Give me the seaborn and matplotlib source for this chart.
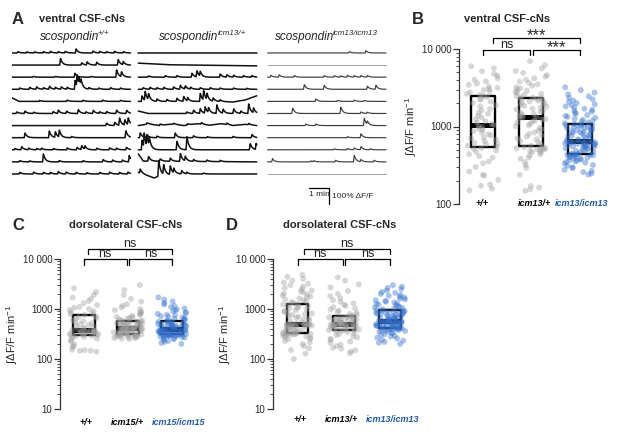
import numpy as np
import pandas as pd
import matplotlib
matplotlib.use("Agg")
import matplotlib.pyplot as plt
import matplotlib.transforms as mtransforms
from matplotlib.ticker import LogLocator, NullFormatter
import seaborn as sns

# ---------------- panel A: calcium traces (time in min, peak height in dF/F) ----------------
TRACE_HEADERS = [("scospondin", "+/+"), ("scospondin", "icm13/+"), ("scospondin", "icm13/icm13")]

TRACES_WT = [
    [(0.3, .08), (0.75, .07), (1.15, .07), (1.6, .08), (1.95, .1), (2.35, .08), (2.7, .1), (3.25, .25),
     (4.1, .12), (4.45, .1), (4.8, .08), (5.2, .1), (5.65, .08)],
    [(2.46, .42), (3.53, .15), (3.81, .2), (4.29, .18), (5.38, .35), (5.64, .2)],
    [(1.08, .05), (2.2, .05), (3.19, .25), (4.0, .05), (5.3, .45), (5.55, .3)],
    [(0.4, .08), (0.9, .12), (1.25, .15), (1.6, .1), (1.9, .18), (2.2, .12), (2.5, .15), (2.8, .12),
     (3.2, .55), (3.3, .7), (3.4, .45), (3.5, .35), (3.9, .1), (4.4, .08), (5.0, .1), (5.5, .08)],
    [(1.4, .06), (2.8, .08), (3.6, .07), (4.6, .08), (5.5, .07)],
    [(0.24, .1), (0.66, .15), (1.1, .08), (2.09, .12), (2.35, .2), (2.77, .15), (3.36, .25), (3.75, .1),
     (4.12, .2), (4.45, .1), (4.8, .12), (5.3, .2), (5.81, .2)],
    [(4.79, .15), (5.21, .2), (5.45, .45), (5.72, .35), (5.89, .42)],
    [(0.66, .3), (1.89, .42), (2.2, .35), (2.4, .42), (3.02, .08), (5.77, .45)],
    [(0.15, .08), (0.49, .2), (0.85, .1), (1.25, .08), (1.5, .1), (2.1, .08), (2.8, .12), (3.3, .15),
     (3.53, .25), (3.7, .2), (4.3, .1), (4.95, .12), (5.3, .1), (5.8, .15)],
    [(0.4, .08), (0.9, .06), (1.59, .5), (2.4, .08), (3.6, .07), (4.62, .15), (5.1, .12), (5.6, .12), (5.94, .4)],
    [(0.4, .1), (1.1, .12), (1.6, .1), (1.95, .1), (2.35, .15), (2.75, .12), (3.25, .1), (3.8, .08),
     (4.45, .1), (4.95, .12), (5.45, .1), (5.88, .12)],
]
TRACES_HET = [
    [],
    [],
    [(0.52, .08), (1.37, .1), (1.96, .1), (2.72, .25), (2.97, .4), (3.14, .3), (4.15, .2), (4.49, .15),
     (4.83, .12), (5.33, .1), (5.76, .1)],
    [(0.25, .1), (0.6, .12), (0.95, .1), (1.3, .12), (1.79, .15), (2.13, .25), (2.38, .2), (2.65, .12),
     (3.14, .1), (3.65, .1), (4.15, .08), (4.83, .08), (5.5, .06)],
    [(0.19, .35), (0.35, .55), (0.52, .4), (0.95, .15), (1.45, .12), (1.96, .2), (2.3, .3), (2.5, .2),
     (3.14, .5), (3.31, .6), (3.48, .4), (3.8, .2), (4.15, .1)],
    [(2.46, .1), (2.8, .2), (3.14, .3), (3.39, .4), (3.56, .3), (3.98, .55), (4.3, .25), (4.83, .3),
     (5.2, .15), (5.59, .6), (5.84, .3)],
    [(0.44, .08), (1.11, .1), (1.8, .06), (2.5, .08), (3.2, .1), (4.49, .1), (5.6, .08)],
    [(0.1, .3), (0.44, .18), (0.95, .1), (1.87, .3), (2.8, .12), (3.5, .06), (4.8, .08), (5.76, .2)],
    [(0.19, .6), (0.3, .85), (0.44, .7), (0.56, .5), (1.96, .55), (2.46, .85), (5.67, .4), (5.97, .4)],
    [(0.52, .3), (1.11, .15), (1.62, .2), (2.13, .5), (2.38, .3), (2.8, .12), (3.48, .1), (4.15, .08)],
    [(0.1, .25), (1.03, 1.0), (1.28, .6), (1.62, .55), (1.8, .3), (2.2, .2), (2.46, .1), (3.3, .06)],
]
TRACES_MUT = [
    [(4.14, .08), (4.98, .15)],
    [],
    [(0.17, .12), (0.59, .15), (1.35, .1), (2.87, .1), (3.38, .1), (3.71, .08), (4.05, .12), (4.39, .1),
     (4.73, .1), (5.06, .1)],
    [(1.86, .3), (2.87, .25), (5.06, .2), (5.49, .25)],
    [(2.45, .15), (3.55, .06), (4.39, .08), (4.9, .06)],
    [(1.27, .35), (3.71, .4), (4.73, .1), (5.06, .08)],
    [(1.94, .1), (2.45, .1), (4.9, .45), (5.06, .2)],
    [(4.05, .06), (4.73, .25)],
    [(3.38, .06), (4.05, .08), (4.39, .12), (4.73, .2), (5.2, .06)],
    [(0.25, .2), (2.2, .06), (2.35, .06), (3.45, .1), (4.39, .4), (4.73, .15), (5.4, .1)],
    [],
]
# slow baseline drifts (time, level) for the traces that have one, keyed by row
DRIFT_WT = {4: [(0, .22), (0.35, 0), (6, 0)]}
DRIFT_HET = {
    1: [(0, .12), (1.5, .02), (6, -.05)],
    4: [(0, 0), (4.0, 0), (4.8, -.04), (5.4, .08), (6, .35)],
    5: [(0, .15), (0.5, 0), (6, 0)],
    6: [(0, 0), (0.5, .1), (1.1, 0), (1.7, .1), (2.3, 0), (3.0, .12), (3.6, .02), (4.2, .12), (4.8, 0), (5.4, .08), (6, 0)],
    9: [(0, .5), (0.25, .05), (6, 0)],
    10: [(0, .1), (0.35, -.05), (0.8, -.25), (1.1, -.1), (2.0, 0), (6, 0)],
}
DRIFT_MUT = {}

# ---------------- panels B-D: integrated dF/F per min for each cell ----------------
B_LABELS = ["+/+", "icm13/+", "icm13/icm13"]
C_LABELS = ["+/+", "icm15/+", "icm15/icm15"]
D_LABELS = ["+/+", "icm13/+", "icm13/icm13"]
B_SIG = ["ns", "***", "***"]
C_SIG = ["ns", "ns", "ns"]
D_SIG = ["ns", "ns", "ns"]

B_WT = [150, 158, 172, 178, 205, 232, 238, 262, 300, 335, 352, 395, 415, 440, 470, 492, 515, 528,
        548, 566, 590, 597, 615, 648, 676, 705, 722, 768, 795, 835, 868, 905, 940, 985, 1010, 1045,
        1075, 1130, 1170, 1240, 1310, 1370, 1460, 1510, 1610, 1690, 1810, 1880, 2010, 2090, 2210, 2290, 2410, 2470,
        2560, 2630, 2760, 2840, 2960, 3040, 3170, 3290, 3460, 3590, 3820, 4010, 4180, 4520, 4790, 5150, 5650, 6000]
B_HET = [148, 154, 163, 171, 238, 292, 318, 347, 382, 398, 423, 437, 462, 468, 483, 488, 502, 508, 513, 522, 524, 533, 541,
         562, 588, 624, 648, 683, 707, 742, 768, 806, 838, 884, 917, 962, 1004, 1036, 1085, 1118, 1164, 1187, 1226, 1248, 1283, 1302,
         1327, 1374, 1408, 1455, 1497, 1556, 1598, 1655, 1697, 1756, 1802, 1846, 1905, 1948, 2006, 2048, 2105, 2146, 2206, 2248, 2287, 2325, 2352,
         2405, 2476, 2565, 2638, 2724, 2796, 2905, 2996, 3106, 3195, 3357, 3496, 3656, 3795, 4008, 4195, 4406, 4595, 4907, 5195, 5610, 6190, 6980]
B_MUT = [240, 247, 258, 268, 276, 291, 298, 312, 318, 331, 342, 348, 356, 362, 368, 377, 381, 388, 396, 401, 404, 412, 414, 421, 424, 429, 431, 436, 437, 441,
         448, 462, 468, 482, 488, 502, 508, 522, 528, 541, 546, 551, 558, 566, 571, 578, 586, 589, 596, 601, 604, 611, 616, 619, 626, 627, 633, 634, 639, 641,
         652, 663, 682, 693, 712, 724, 742, 753, 772, 783, 802, 813, 832, 843, 862, 873, 892, 903, 922, 933, 952, 963, 982, 993, 1012, 1023, 1042, 1048, 1062, 1068,
         1102, 1128, 1162, 1188, 1222, 1248, 1292, 1328, 1372, 1408, 1452, 1498, 1552, 1598, 1652, 1698, 1762, 1818, 1882, 1938, 2002, 2078, 2162, 2248, 2352, 2448, 2602, 2748, 2952, 3200]

C_WT = [140, 146, 147, 150, 153, 176, 181, 198, 222, 238, 256, 263, 276, 279, 286, 291,
        299, 306, 309, 316, 319, 326, 329, 336, 339, 346, 349, 356, 359, 366, 371, 381,
        394, 411, 424, 441, 459, 481, 499, 521, 544, 571, 599, 631, 659, 691, 719, 761,
        789, 821, 859, 901, 949, 1001, 1049, 1102, 1198, 1302, 1448, 1602, 1698, 1902, 2198, 2600]
C_HET = [251, 254, 261, 264, 271, 274, 281, 282, 287, 288, 293, 294, 299, 300, 305, 306, 311, 311, 315, 316, 319, 321,
         324, 331, 334, 341, 344, 351, 354, 361, 364, 371, 374, 381, 383, 389, 391, 397, 399, 405, 407, 413, 415, 421,
         424, 433, 438, 447, 452, 461, 466, 475, 480, 489, 494, 503, 509, 519, 525, 535, 541, 551, 557, 567, 573, 581,
         598, 622, 638, 662, 678, 702, 728, 762, 788, 822, 858, 902, 948, 1002, 1078, 1162, 1248, 1402, 1598, 1902, 2398, 3000]
C_MUT = [201, 209, 221, 229, 241, 247, 256, 261, 269, 272, 279, 281, 287, 288, 293, 294, 298, 298, 302, 302, 306, 305, 308, 307, 311,
         312, 317, 318, 323, 324, 329, 330, 335, 336, 341, 342, 347, 348, 353, 354, 359, 360, 365, 366, 371, 373, 379, 381, 387, 391,
         394, 401, 405, 413, 417, 425, 429, 437, 441, 449, 453, 461, 465, 473, 477, 485, 489, 498, 503, 512, 517, 528, 535, 549, 559,
         576, 589, 606, 619, 641, 659, 681, 699, 721, 744, 771, 799, 831, 859, 901, 939, 981, 1029, 1091, 1149, 1231, 1319, 1421, 1549, 1700]

D_WT = [100, 128, 151, 164, 181, 199, 216, 229, 246, 254, 266, 274, 283, 289, 297, 301, 308, 311, 317, 319, 324, 325, 329, 331,
        336, 344, 356, 364, 376, 384, 396, 404, 416, 424, 436, 444, 453, 458, 467, 471, 479, 483, 489, 490, 495, 495, 499, 501,
        521, 544, 571, 594, 621, 644, 671, 699, 731, 759, 791, 819, 851, 879, 911, 949, 991, 1029, 1071, 1109, 1151, 1189, 1231, 1261,
        1309, 1371, 1429, 1491, 1559, 1631, 1699, 1781, 1859, 1951, 2049, 2151, 2249, 2351, 2499, 2651, 2799, 3001, 3199, 3401, 3699, 4001, 4399, 4800]
D_HET = [130, 141, 149, 161, 169, 181, 194, 211, 224, 241, 254, 271, 284, 301, 314, 331, 344, 356, 364, 373, 379,
         389, 395, 405, 411, 421, 426, 435, 440, 449, 454, 462, 466, 473, 476, 482, 484, 490, 491, 496, 497, 501,
         509, 521, 529, 541, 549, 561, 569, 581, 589, 601, 611, 625, 635, 649, 659, 673, 683, 697, 707, 717, 724,
         761, 799, 841, 879, 931, 979, 1031, 1089, 1151, 1219, 1301, 1399, 1501, 1649, 1801, 1999, 2301, 2699, 3101, 3699, 4300]
D_MUT = [200, 211, 219, 233, 243, 257, 267, 281, 291, 305, 314, 327, 335, 347, 354, 364, 370, 379, 383, 391, 394, 400, 402, 407, 408, 412, 412, 415,
         421, 425, 433, 437, 445, 449, 457, 461, 469, 473, 481, 485, 493, 497, 505, 509, 517, 521, 529, 533, 541, 545, 553, 557, 564, 566, 572, 570, 576, 574,
         586, 597, 612, 623, 638, 649, 664, 675, 690, 701, 716, 727, 742, 754, 771, 784, 801, 814, 831, 844, 861, 874, 891, 904, 919, 929, 941, 949,
         981, 1009, 1041, 1069, 1101, 1139, 1181, 1219, 1261, 1299, 1351, 1399, 1451, 1499, 1561, 1619, 1691, 1759, 1841, 1919, 2001, 2099, 2201, 2349, 2501, 2649, 2801, 3000]

GRAY = "#a0a0a0"
BLUE = "#3572cf"
LABEL_BLUE = "#1f5aa8"
W, H = 617, 433

sns.set_theme(style="ticks")
plt.rcParams["font.family"] = ["Liberation Sans", "DejaVu Sans"]
plt.rcParams["mathtext.fontset"] = "custom"
plt.rcParams["mathtext.rm"] = "Liberation Sans"
plt.rcParams["mathtext.it"] = "Liberation Sans:italic"
plt.rcParams["mathtext.bf"] = "Liberation Sans:bold"
np.random.seed(7)  # stripplot jitter only

fig = plt.figure(figsize=(W / 100, H / 100), dpi=100)
renderer = fig.canvas.get_renderer()


def px_axes(left, top, right, bottom):
    return fig.add_axes([left / W, 1 - bottom / H, (right - left) / W, (bottom - top) / H])


def fig_label(x, y, s, **kw):
    return fig.text(x / W, 1 - y / H, s, **kw)


# ---------------- panel A ----------------
ax_a = px_axes(12, 40, 387, 210)
t_grid = np.linspace(0, 6, 721)
col_offset = [0, 6.4, 12.95]
row_step = 0.756


def trace_y(peaks, drift):
    if drift:
        y = np.interp(t_grid, [p[0] for p in drift], [p[1] for p in drift])
    else:
        y = np.zeros_like(t_grid)
    for tp, h in peaks:
        rise = (t_grid > tp - 0.04) & (t_grid <= tp)
        y[rise] += h * (t_grid[rise] - (tp - 0.04)) / 0.04
        after = t_grid > tp
        y[after] += h * np.exp(-(t_grid[after] - tp) / 0.1)
    return y


for c, (traces, drifts) in enumerate([(TRACES_WT, DRIFT_WT), (TRACES_HET, DRIFT_HET), (TRACES_MUT, DRIFT_MUT)]):
    for r, peaks in enumerate(traces):
        y = trace_y(peaks, drifts.get(r)) - r * row_step
        if c < 2:
            color, lw = "#111111", 1.1
        elif peaks:
            color, lw = "#3c3c3c", 0.85
        else:
            color, lw = "#8c8c8c", 0.6
        ax_a.plot(t_grid + col_offset[c], y, color=color, lw=lw)

# scale bar
ax_a.plot([15.04, 16.05], [-8.44, -8.44], color="black", lw=0.9)
ax_a.plot([16.05, 16.05], [-8.44, -9.44], color="black", lw=0.9)
ax_a.text(15.55, -8.62, "1 min", ha="center", va="top", fontsize=6)
ax_a.text(16.22, -8.95, "100% ΔF/F", ha="left", va="center", fontsize=6)
ax_a.set_xlim(0, 19)
ax_a.set_ylim(-9.81, 0.81)
ax_a.axis("off")

fig_label(12, 19, "A", fontsize=12, fontweight="bold", va="center")
fig_label(39, 19, "ventral CSF-cNs", fontsize=8, fontweight="bold", va="center")

for cx, (base, sup) in zip([75, 203, 327], TRACE_HEADERS):
    t1 = fig_label(0, 40, base, fontsize=8.5, style="italic", va="baseline")
    t2 = fig_label(0, 35, sup, fontsize=5.8, style="italic", va="baseline")
    w1 = t1.get_window_extent(renderer).width
    w2 = t2.get_window_extent(renderer).width
    x0 = cx - (w1 + w2) / 2
    t1.set_x(x0 / W)
    t2.set_x((x0 + w1 - 1.0) / W)


# ---------------- panels B-D ----------------
def scatter_panel(ax, values, labels, sig, ymin, xlim, box_w, label_x, label_y, bars):
    df = pd.DataFrame({"genotype": np.repeat(labels, [len(v) for v in values]),
                       "value": np.concatenate(values).astype(float)})
    palette = {labels[0]: GRAY, labels[1]: GRAY, labels[2]: BLUE}
    sns.stripplot(data=df, x="genotype", y="value", hue="genotype", order=labels, palette=palette,
                  jitter=0.33, size=4.2, alpha=0.42, linewidth=0, log_scale=True, legend=False, ax=ax)
    sns.boxplot(data=df, x="genotype", y="value", order=labels, width=box_w, whis=(25, 75),
                showcaps=False, showfliers=False, fill=False, color="black", linewidth=1.7,
                medianprops=dict(linewidth=3.6), log_scale=True, ax=ax)
    ax.set_xlim(*xlim)
    ax.set_ylim(ymin, 10000)
    ticks = [t for t in [10, 100, 1000, 10000] if t >= ymin]
    ax.set_yticks(ticks)
    ax.set_yticklabels(["10 000" if t == 10000 else str(t) for t in ticks])
    ax.yaxis.set_minor_locator(LogLocator(base=10, subs=np.arange(2, 10)))
    ax.yaxis.set_minor_formatter(NullFormatter())
    ax.tick_params(axis="y", which="major", length=4, width=0.9, labelsize=7, pad=1.5, color="#333333")
    ax.tick_params(axis="y", which="minor", length=2, width=0.6, color="#333333")
    ax.set_xticks([])
    ax.set_xlabel("")
    ax.set_ylabel(r"$\int$ΔF/F min$^{-1}$", fontsize=8, labelpad=2)
    for s in ["top", "right", "bottom"]:
        ax.spines[s].set_visible(False)
    ax.spines["left"].set_linewidth(0.9)
    ax.spines["left"].set_color("#333333")

    trans = mtransforms.blended_transform_factory(ax.transData, ax.transAxes)
    for i, lab in enumerate(labels):
        ax.text(label_x[i], label_y, lab, transform=trans, ha="center", va="center", fontsize=6.5,
                fontweight="bold", fontstyle="italic", color=LABEL_BLUE if i == 2 else "black", clip_on=False)
    low_bar, low_leg, top_bar, top_leg, top_x0 = bars
    for (x0, x1, yb, yl), txt in zip([(0, 0.97, low_bar, low_leg), (1.03, 2, low_bar, low_leg),
                                      (top_x0, 2, top_bar, top_leg)], sig):
        ax.plot([x0, x0, x1, x1], [yl, yb, yb, yl], transform=trans, color="black", lw=0.9, clip_on=False)
        if txt == "***":
            ax.text((x0 + x1) / 2, yb - 0.035, txt, transform=trans, ha="center", va="bottom",
                    fontsize=12, clip_on=False)
        else:
            ax.text((x0 + x1) / 2, yb - 0.005, txt, transform=trans, ha="center", va="bottom",
                    fontsize=9, clip_on=False)


ax_b = px_axes(459, 49, 604, 204)
scatter_panel(ax_b, [B_WT, B_HET, B_MUT], B_LABELS, B_SIG, 100, (-0.495, 2.5), 0.5,
              [-0.02, 1.07, 2.04], 0.0, (0.994, 0.961, 1.071, 1.039, 0.2))
ax_c = px_axes(60, 259, 194, 409)
scatter_panel(ax_c, [C_WT, C_HET, C_MUT], C_LABELS, C_SIG, 10, (-0.545, 2.5), 0.5,
              [0.045, 0.98, 2.14], -0.087, (1.0, 0.96, 1.067, 1.033, 0.1))
ax_d = px_axes(273, 259, 413, 409)
scatter_panel(ax_d, [D_WT, D_HET, D_MUT], D_LABELS, D_SIG, 10, (-0.54, 2.5), 0.46,
              [0.04, 0.94, 2.05], -0.073, (1.0, 0.96, 1.067, 1.033, 0.13))

fig_label(412, 19, "B", fontsize=12, fontweight="bold", va="center")
fig_label(507, 19, "ventral CSF-cNs", fontsize=8, fontweight="bold", va="center", ha="center")
fig_label(12, 225, "C", fontsize=12, fontweight="bold", va="center")
fig_label(126, 225, "dorsolateral CSF-cNs", fontsize=8, fontweight="bold", va="center", ha="center")
fig_label(226, 225, "D", fontsize=12, fontweight="bold", va="center")
fig_label(340, 225, "dorsolateral CSF-cNs", fontsize=8, fontweight="bold", va="center", ha="center")

fig.savefig("out.png", dpi=100)
